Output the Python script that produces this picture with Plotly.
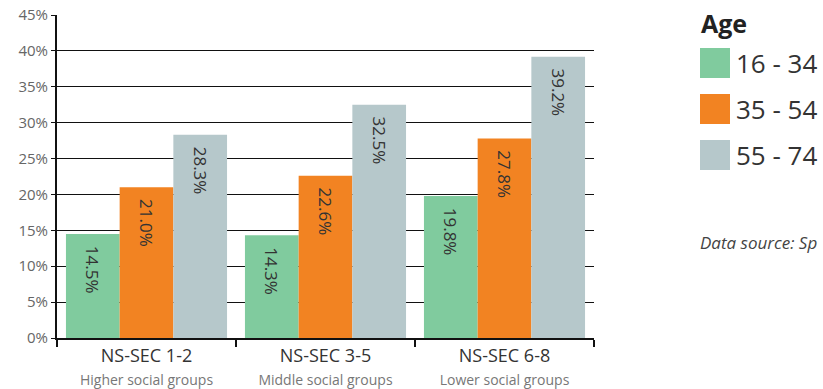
import plotly.graph_objects as go

# Share of adults by social group and age band
groups = ["NS-SEC 1-2", "NS-SEC 3-5", "NS-SEC 6-8"]
group_desc = ["Higher social groups", "Middle social groups", "Lower social groups"]
age_bands = ["16 - 34", "35 - 54", "55 - 74"]
values = {
    "16 - 34": [14.5, 14.3, 19.8],
    "35 - 54": [21.0, 22.6, 27.8],
    "55 - 74": [28.3, 32.5, 39.2],
}
colors = ["#80CB9E", "#F28322", "#B6C8CB"]
y_ticks = [0, 5, 10, 15, 20, 25, 30, 35, 40, 45]

FONT = "Open Sans"
W, H = 823, 389
ML, MR, MT, MB = 57, 229, 15, 51

tick_text = [
    f"{g}<br><span style='font-size:14px;color:#777777'>{d}</span>"
    for g, d in zip(groups, group_desc)
]

fig = go.Figure()
for band, col in zip(age_bands, colors):
    vals = values[band]
    fig.add_trace(go.Bar(
        x=groups,
        y=vals,
        name=band,
        marker=dict(color=col, line=dict(width=0)),
        text=[f"\u00a0\u00a0{v:.1f}%" for v in vals],
        textposition="inside",
        insidetextanchor="end",
        textangle=90,
        textfont=dict(family=FONT, size=17, color="#333333"),
        showlegend=False,
    ))

fig.update_layout(
    width=W,
    height=H,
    margin=dict(l=ML, r=MR, t=MT, b=MB, autoexpand=False),
    paper_bgcolor="white",
    plot_bgcolor="white",
    barmode="group",
    bargap=0.1,
    bargroupgap=0,
    font=dict(family=FONT, color="#333333"),
    xaxis=dict(
        automargin=False,
        tickmode="array",
        tickvals=groups,
        ticktext=tick_text,
        tickson="boundaries",
        ticks="outside",
        ticklen=7,
        tickwidth=2,
        tickcolor="#111111",
        showline=True,
        linecolor="#111111",
        linewidth=2,
        tickfont=dict(family=FONT, size=18, color="#333333"),
        showgrid=False,
    ),
    yaxis=dict(
        automargin=False,
        range=[0, 45],
        tickvals=y_ticks,
        ticktext=[f"{t}%" for t in y_ticks],
        showgrid=True,
        gridcolor="#111111",
        gridwidth=1,
        showline=True,
        linecolor="#111111",
        linewidth=2,
        ticks="outside",
        ticklen=4,
        tickcolor="#111111",
        tickfont=dict(family=FONT, size=15, color="#666666"),
        zeroline=False,
    ),
)

# pixel positions -> paper coordinates
pw = W - ML - MR
ph = H - MT - MB


def px(x):
    return (x - ML) / pw


def py(y):
    return (H - MB - y) / ph


# Legend drawn as swatches plus labels to the right of the plot
fig.add_annotation(
    x=px(699), y=py(23), xref="paper", yref="paper",
    text="<b>Age</b>", showarrow=False, xanchor="left", yanchor="middle",
    font=dict(family=FONT, size=25, color="#222222"),
)
for i, (band, col) in enumerate(zip(age_bands, colors)):
    top = 48 + i * 46
    fig.add_shape(
        type="rect", xref="paper", yref="paper",
        x0=px(700), x1=px(730), y0=py(top + 30), y1=py(top),
        line=dict(width=0), fillcolor=col,
    )
    fig.add_annotation(
        x=px(734), y=py(top + 15), xref="paper", yref="paper",
        text=band, showarrow=False, xanchor="left", yanchor="middle",
        font=dict(family=FONT, size=26, color="#333333"),
    )

fig.add_annotation(
    x=px(698), y=py(242), xref="paper", yref="paper",
    text="<i>Data source: Sp</i>", showarrow=False,
    xanchor="left", yanchor="middle",
    font=dict(family=FONT, size=17, color="#444444"),
)

fig.write_html("out.html")
